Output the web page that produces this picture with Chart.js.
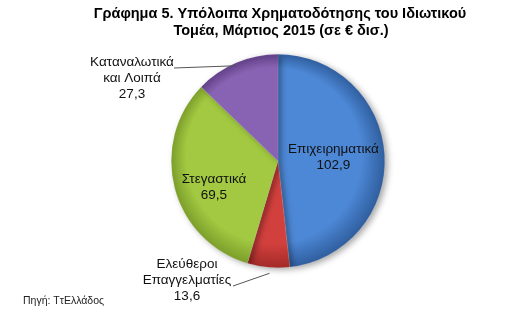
<!DOCTYPE html>
<html>
<head>
<meta charset="utf-8">
<script src="https://cdn.jsdelivr.net/npm/chart.js@4"></script>
<style>
  html, body { margin: 0; padding: 0; background: #fff; }
  #wrap { width: 520px; height: 316px; }
</style>
</head>
<body>
<div id="wrap"><canvas id="pieChart" width="520" height="316"></canvas></div>
<script>
// Δεδομένα (δισ. €), Μάρτιος 2015
const categories = ['Επιχειρηματικά', 'Ελεύθεροι Επαγγελματίες', 'Στεγαστικά', 'Καταναλωτικά και Λοιπά'];
const values = [102.9, 13.6, 69.5, 27.3];
const valueLabels = ['102,9', '13,6', '69,5', '27,3'];
const labelLines = [['Επιχειρηματικά'], ['Ελεύθεροι', 'Επαγγελματίες'], ['Στεγαστικά'], ['Καταναλωτικά', 'και Λοιπά']];

// χρώματα: [ανοιχτό, σκούρο]
const sliceColors = [['#4d88d6', '#2f5e9e'], ['#d2403d', '#a22a28'], ['#a2c941', '#7c9e2b'], ['#8963b3', '#614087']];

const FONT = '13.5px "Liberation Sans", Arial, sans-serif';

function gradient(ctx, i) {
  const chart = ctx.chart;
  const a = chart.chartArea;
  if (!a) return sliceColors[i][0];
  const cx = (a.left + a.right) / 2, cy = (a.top + a.bottom) / 2;
  const r = Math.min(a.right - a.left, a.bottom - a.top) / 2;
  const g = chart.ctx.createRadialGradient(cx - r * 0.2, cy - r * 0.25, r * 0.1, cx, cy, r);
  g.addColorStop(0, sliceColors[i][0]);
  g.addColorStop(0.8, sliceColors[i][0]);
  g.addColorStop(1, sliceColors[i][1]);
  return g;
}

// τίτλος, πηγή και ετικέτες
const labelsPlugin = {
  id: 'pieLabels',
  afterDraw(chart) {
    const c = chart.ctx;
    c.save();
    c.fillStyle = '#000';
    c.textAlign = 'center';
    c.textBaseline = 'middle';
    c.font = 'bold 14.5px "Liberation Sans", Arial, sans-serif';
    c.fillText('Γράφημα 5. Υπόλοιπα Χρηματοδότησης του Ιδιωτικού', 280, 14);
    c.fillText('Τομέα, Μάρτιος 2015 (σε € δισ.)', 281, 31);

    c.textAlign = 'left';
    c.font = '10.5px "Liberation Sans", Arial, sans-serif';
    c.fillStyle = '#222';
    c.fillText('Πηγή: ΤτΕλλάδος', 23, 301);

    const meta = chart.getDatasetMeta(0);
    c.font = FONT;
    c.textAlign = 'center';
    c.fillStyle = '#111';
    meta.data.forEach((arc, i) => {
      const mid = (arc.startAngle + arc.endAngle) / 2;
      const r = arc.outerRadius;
      const lines = labelLines[i].concat([valueLabels[i]]);
      if (i === 0 || i === 2) {
        const k = i === 0 ? 0.52 : 0.62;
        const x = arc.x + Math.cos(mid) * r * k;
        const y = arc.y + Math.sin(mid) * r * k + (i === 2 ? 9 : -1);
        lines.forEach((t, j) => c.fillText(t, x, y + (j - (lines.length - 1) / 2) * 16));
        return;
      }
      // εξωτερικές ετικέτες με γραμμή
      const ex = arc.x + Math.cos(mid) * r;
      const ey = arc.y + Math.sin(mid) * r;
      let tx, ty, lx, ly;
      if (i === 3) {
        tx = 132; ty = 78; lx = 174; ly = 68;
      } else {
        tx = 187; ty = 280; lx = 233; ly = 286;
      }
      c.strokeStyle = '#555';
      c.lineWidth = 1;
      c.beginPath();
      c.moveTo(lx, ly);
      c.lineTo(ex + (i === 1 ? 1 : 0), ey + (i === 1 ? 6 : 3));
      c.stroke();
      lines.forEach((t, j) => c.fillText(t, tx, ty + (j - (lines.length - 1) / 2) * 16));
    });
    c.restore();
  }
};

const shadowPlugin = {
  id: 'pieShadow',
  beforeDatasetsDraw(chart) {
    const c = chart.ctx;
    c.save();
    c.shadowColor = 'rgba(0,0,0,0.35)';
    c.shadowBlur = 6;
    c.shadowOffsetX = 3;
    c.shadowOffsetY = 2;
  },
  afterDatasetsDraw(chart) {
    chart.ctx.restore();
  }
};

new Chart(document.getElementById('pieChart').getContext('2d'), {
  type: 'pie',
  data: {
    labels: categories,
    datasets: [{
      data: values,
      backgroundColor: (ctx) => gradient(ctx, ctx.dataIndex),
      borderColor: 'rgba(255,255,255,0.2)',
      borderWidth: 0.5
    }]
  },
  options: {
    responsive: false,
    animation: false,
    layout: { padding: { top: 54, bottom: 48, left: 171, right: 135 } },
    plugins: {
      legend: { display: false },
      tooltip: { enabled: false },
      title: { display: false }
    }
  },
  plugins: [shadowPlugin, labelsPlugin]
});
</script>
</body>
</html>
